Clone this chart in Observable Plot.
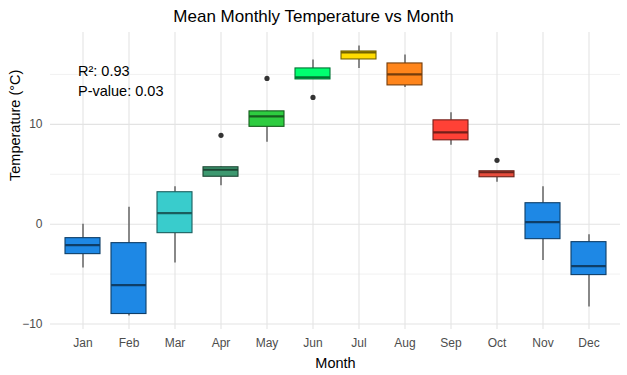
<!DOCTYPE html>
<html>
<head>
<meta charset="utf-8">
<script src="https://cdn.jsdelivr.net/npm/d3@7"></script>
<script src="https://cdn.jsdelivr.net/npm/@observablehq/plot@0.6"></script>
<style>
  body { margin: 0; background: #fff; font-family: "Liberation Sans", Arial, sans-serif; }
  #title { height: 30px; line-height: 34px; text-align: center; font-size: 17px; color: #000; }
  #chart svg { display: block; }
</style>
</head>
<body>
<div id="title">Mean Monthly Temperature vs Month</div>
<div id="chart"></div>
<script>
const months = ["Jan","Feb","Mar","Apr","May","Jun","Jul","Aug","Sep","Oct","Nov","Dec"];
const whiskerLow  = [-4.4, -9.2, -3.9, 3.85, 8.2, 14.5, 15.6, 13.7, 7.9, 4.2, -3.65, -8.3];
const q1          = [-3.0, -9.0, -0.9, 4.75, 9.75, 14.5, 16.5, 13.9, 8.4, 4.7, -1.5, -5.1];
const medians     = [-2.1, -6.1, 1.1, 5.45, 10.8, 14.7, 17.2, 15.0, 9.2, 5.2, 0.2, -4.2];
const q3          = [-1.4, -1.9, 3.2, 5.7, 11.3, 15.6, 17.3, 16.1, 10.4, 5.3, 2.1, -1.8];
const whiskerHigh = [0.0, 1.7, 3.75, 5.75, 11.35, 16.45, 17.85, 16.95, 11.15, 5.3, 3.75, -1.05];
const fills = ["#1E88E5","#1E88E5","#39CCCC","#3D9970","#2ECC40","#01FF70","#FFDC00","#FF851B","#FF4136","#E74C3C","#1E88E5","#1E88E5"];
const outlierMonths = ["Apr","May","Jun","Oct"];
const outlierValues = [8.9, 14.6, 12.7, 6.4];
const annotations = ["R²: 0.93", "P-value: 0.03"];
const annotationY = [15.35, 13.35];

const boxes = months.map((m, i) => ({
  month: m, lo: whiskerLow[i], q1: q1[i], med: medians[i], q3: q3[i], hi: whiskerHigh[i],
  fill: fills[i], stroke: d3.color(fills[i]).darker(2.2).formatHex()
}));
const outliers = outlierMonths.map((m, i) => ({month: m, value: outlierValues[i]}));
const notes = annotations.map((t, i) => ({text: t, y: annotationY[i]}));

const plot = Plot.plot({
  width: 627,
  height: 345,
  marginTop: 2,
  marginBottom: 46,
  marginLeft: 50,
  marginRight: 7,
  style: {fontFamily: "Liberation Sans, Arial, sans-serif", fontSize: "12px", background: "#fff"},
  x: {domain: months, type: "band", paddingInner: 0.25, paddingOuter: 0.225, label: null},
  y: {domain: [-10.55, 19.2], label: null},
  marks: [
    Plot.ruleY([-5, 5, 15], {stroke: "#EBEBEB", strokeWidth: 0.7}),
    Plot.ruleY([-10, 0, 10], {stroke: "#E3E3E3", strokeWidth: 1.1}),
    Plot.ruleX(months, {x: d => d, stroke: "#E3E3E3", strokeWidth: 1.1}),
    Plot.axisY({ticks: [-10, 0, 10], tickSize: 0, tickPadding: 8, fill: "#4D4D4D", fontSize: 12, label: null}),
    Plot.axisX({tickSize: 0, tickPadding: 9, fill: "#4D4D4D", fontSize: 12, label: null}),
    Plot.ruleX(boxes, {x: "month", y1: "lo", y2: "q1", stroke: "#333", strokeWidth: 1.1}),
    Plot.ruleX(boxes, {x: "month", y1: "q3", y2: "hi", stroke: "#333", strokeWidth: 1.1}),
    Plot.barY(boxes, {x: "month", y1: "q1", y2: "q3", fill: "fill", stroke: "stroke", strokeWidth: 1.1}),
    Plot.tickY(boxes, {x: "month", y: "med", stroke: "stroke", strokeWidth: 2.2}),
    Plot.dot(outliers, {x: "month", y: "value", r: 2.6, fill: "#333", stroke: null}),
    Plot.text(notes, {x: () => "Jan", y: "y", text: "text", textAnchor: "start", dx: -5, fontSize: 14.5, fill: "#000"}),
    Plot.text(["Month"], {frameAnchor: "bottom", dy: 38, fontSize: 14.5, fill: "#000"}),
    Plot.text(["Temperature (°C)"], {frameAnchor: "left", dx: -35, dy: 0, rotate: -90, fontSize: 14.5, fill: "#000"})
  ]
});
document.getElementById("chart").appendChild(plot);
</script>
</body>
</html>
